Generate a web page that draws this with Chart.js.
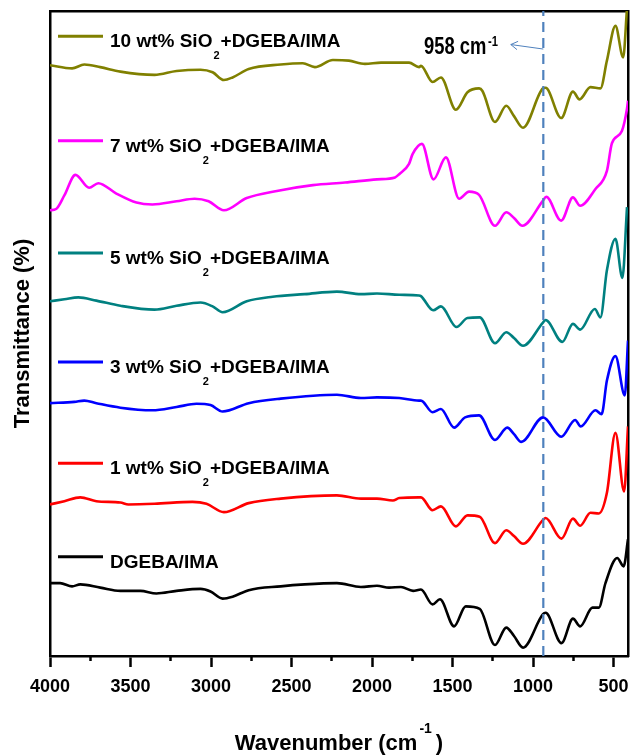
<!DOCTYPE html>
<html>
<head>
<meta charset="utf-8">
<script src="https://cdn.jsdelivr.net/npm/chart.js@4.4.1/dist/chart.umd.min.js"></script>
<style>
  html, body { margin: 0; padding: 0; background: #fff; }
  canvas { display: block; }
</style>
</head>
<body>
<canvas id="ftir" width="630" height="756"></canvas>
<script>
'use strict'

// series, top to bottom
var seriesLabels = ['10 wt% SiO₂+DGEBA/IMA', '7 wt% SiO₂+DGEBA/IMA', '5 wt% SiO₂+DGEBA/IMA',
                    '3 wt% SiO₂+DGEBA/IMA', '1 wt% SiO₂+DGEBA/IMA', 'DGEBA/IMA'];
var seriesColors = ['#808000', '#ff00ff', '#008080', '#0000ff', '#ff0000', '#000000'];

// [wavenumber, transmittance (offset, a.u.)]
var sio10 = [[4000,91.6],[3863,91.1],[3787,91.7],[3688,91.3],[3563,90.6],[3351,90.1],[3214,90.7],
  [3065,90.9],[2990,90.5],[2920,89.3],[2866,89.7],[2766,91.0],[2567,91.7],[2430,91.9],[2355,91.3],
  [2243,92.4],[2144,92.3],[2044,91.8],[1944,92.0],[1831,92.0],[1770,92.0],[1708,91.3],[1696,91.5],
  [1624,89.0],[1572,89.7],[1479,84.7],[1407,87.4],[1335,88.0],[1314,87.6],[1236,82.8],[1166,85.3],
  [1118,83.7],[1062,81.9],[938,88.0],[922,88.1],[825,83.4],[752,87.5],[711,86.3],[643,88.2],
  [581,88.0],[541,92.3],[488,97.7],[440,92.8],[416,100.5]];
var sio7 = [[4000,69.1],[3962,69.3],[3911,71.4],[3842,74.6],[3757,72.6],[3700,73.3],[3588,71.7],
  [3463,70.3],[3364,70.0],[3214,70.5],[3102,70.9],[3015,70.5],[2920,69.1],[2778,71.0],[2591,72.1],
  [2367,73.0],[2168,73.4],[1969,73.9],[1857,74.2],[1831,74.7],[1770,76.3],[1748,77.8],[1690,79.4],
  [1618,73.9],[1541,77.3],[1459,70.9],[1397,72.0],[1335,71.5],[1236,66.7],[1166,68.8],[1118,67.9],
  [1066,66.7],[938,70.6],[918,71.2],[825,67.5],[752,71.1],[707,69.8],[612,72.4],[541,75.2],
  [510,79.5],[448,81.4],[416,84.9],[410,86.1]];
var sio5 = [[4000,55.0],[3911,55.3],[3824,55.6],[3712,55.1],[3563,54.3],[3351,53.7],[3214,54.3],
  [3065,54.8],[2990,54.2],[2928,53.3],[2778,55.0],[2617,55.7],[2418,56.1],[2218,56.5],[2069,56.1],
  [1969,56.2],[1831,56.0],[1708,55.9],[1696,55.8],[1620,53.6],[1572,54.2],[1475,51.0],[1407,52.4],
  [1331,52.5],[1236,48.5],[1166,50.2],[1118,49.3],[1062,48.1],[938,51.7],[922,52.1],[818,48.7],
  [752,51.5],[707,50.6],[616,53.8],[581,52.5],[541,59.8],[488,64.7],[445,58.6],[416,69.6]];
var sio3 = [[4000,39.2],[3849,39.4],[3787,39.6],[3712,39.2],[3563,38.5],[3364,38.1],[3214,38.6],
  [3090,39.1],[3003,38.9],[2928,37.9],[2766,39.2],[2567,39.9],[2218,40.5],[2069,40.0],[1969,40.1],
  [1831,40.0],[1708,39.6],[1696,39.6],[1624,37.8],[1572,38.3],[1490,35.4],[1422,37.0],[1335,37.3],
  [1236,33.5],[1160,35.4],[1118,34.4],[1073,33.2],[937,37.0],[825,34.0],[738,36.6],[704,35.6],
  [612,38.1],[574,37.5],[541,42.7],[488,46.5],[430,40.4],[410,48.9]];
var sio1 = [[4000,23.5],[3911,24.0],[3812,24.6],[3712,24.0],[3563,23.8],[3513,23.5],[3351,23.6],
  [3115,23.9],[3028,23.6],[2920,22.3],[2766,23.7],[2567,24.4],[2218,24.9],[2069,24.4],[1969,24.4],
  [1870,24.1],[1831,24.5],[1708,24.6],[1696,24.6],[1624,22.6],[1572,23.2],[1479,20.1],[1407,21.8],
  [1331,21.6],[1236,17.5],[1166,19.5],[1118,18.6],[1062,17.4],[938,21.1],[922,21.4],[823,18.2],
  [752,21.3],[707,20.2],[643,22.2],[591,22.1],[541,25.3],[488,34.6],[434,25.5],[410,35.6]];
var neat = [[4000,11.3],[3937,11.3],[3863,10.8],[3812,11.1],[3688,10.6],[3563,10.1],[3438,10.1],
  [3339,9.7],[3214,10.1],[3065,10.4],[3003,10.0],[2928,8.9],[2866,9.2],[2766,10.2],[2567,10.8],
  [2418,11.1],[2218,11.3],[2069,10.7],[1969,10.9],[1894,10.6],[1820,10.7],[1745,10.1],[1696,10.3],
  [1624,8.0],[1578,8.8],[1490,4.6],[1418,7.7],[1331,7.3],[1236,1.7],[1166,4.4],[1118,3.1],
  [1062,1.3],[938,6.5],[922,6.7],[823,2.0],[752,5.8],[707,4.6],[631,7.5],[591,7.5],[550,11.3],
  [477,15.2],[437,13.9],[410,18.1]];

var seriesData = [sio10, sio7, sio5, sio3, sio1, neat];

var xTicks = [4000, 3500, 3000, 2500, 2000, 1500, 1000, 500];
var xMinorTicks = [3750, 3250, 2750, 2250, 1750, 1250, 750];

var markerAt = 936;        // dashed line
var markerText = '958 cm';

Chart.defaults.font.family = '"Liberation Sans", Arial, sans-serif';
Chart.defaults.color = '#000';

// where the legend swatches sit (y value)
var legendRows = [96.1, 79.9, 62.5, 45.6, 29.9, 15.4];

var overlay = {
  id: 'overlay',
  afterDraw: function(chart) {
    var ctx = chart.ctx, a = chart.chartArea;
    var x = chart.scales.x, y = chart.scales.y;
    ctx.save();
    ctx.fillStyle = '#000';

    // legend
    seriesLabels.forEach(function(label, i) {
      var py = y.getPixelForValue(legendRows[i]);
      ctx.strokeStyle = seriesColors[i];
      ctx.lineWidth = 3;
      ctx.beginPath();
      ctx.moveTo(a.left + 8, py);
      ctx.lineTo(a.left + 53, py);
      ctx.stroke();

      var parts = label.split('₂');
      var tx = a.left + 60, base = py + 11;
      ctx.textAlign = 'left';
      ctx.textBaseline = 'alphabetic';
      ctx.font = 'bold 19px "Liberation Sans", Arial, sans-serif';
      ctx.fillText(parts[0], tx, base);
      if (parts.length > 1) {
        tx += ctx.measureText(parts[0]).width + 1;
        ctx.font = 'bold 11px "Liberation Sans", Arial, sans-serif';
        ctx.fillText('2', tx, base + 12);
        tx += ctx.measureText('2').width + 1;
        ctx.font = 'bold 19px "Liberation Sans", Arial, sans-serif';
        ctx.fillText(parts[1], tx, base);
      }
    });

    // arrow + note
    var mx = x.getPixelForValue(markerAt);
    var ay = y.getPixelForValue(94.1);
    var tx2 = x.getPixelForValue(1138), ty2 = y.getPixelForValue(94.8);
    ctx.strokeStyle = '#4f81bd';
    ctx.lineWidth = 1;
    ctx.beginPath();
    ctx.moveTo(mx, ay);
    ctx.lineTo(tx2, ty2);
    var ang = Math.atan2(ay - ty2, mx - tx2);
    ctx.moveTo(tx2 + 8 * Math.cos(ang - 0.55), ty2 + 8 * Math.sin(ang - 0.55));
    ctx.lineTo(tx2, ty2);
    ctx.lineTo(tx2 + 8 * Math.cos(ang + 0.55), ty2 + 8 * Math.sin(ang + 0.55));
    ctx.stroke();

    // narrow look: squeeze Liberation Sans horizontally
    var nx = x.getPixelForValue(1290), ny = y.getPixelForValue(93.4);
    ctx.save();
    ctx.translate(nx, ny);
    ctx.scale(0.8, 1);
    ctx.font = 'bold 23px "Liberation Sans", Arial, sans-serif';
    ctx.textAlign = 'right';
    ctx.fillText(markerText, 0, 0);
    ctx.textAlign = 'left';
    ctx.font = 'bold 14px "Liberation Sans", Arial, sans-serif';
    ctx.fillText('-1', 2, -8);
    ctx.restore();

    // axis titles
    ctx.font = 'bold 22px "Liberation Sans", Arial, sans-serif';
    ctx.save();
    ctx.translate(29, (a.top + a.bottom) / 2);
    ctx.rotate(-Math.PI / 2);
    ctx.textAlign = 'center';
    ctx.fillText('Transmittance (%)', 0, 0);
    ctx.restore();

    var main = 'Wavenumber (cm', close = ')';
    var wMain = ctx.measureText(main).width, wClose = ctx.measureText(close).width;
    ctx.font = 'bold 14px "Liberation Sans", Arial, sans-serif';
    var wSup = ctx.measureText('-1').width;
    var sx = (a.left + a.right) / 2 - (wMain + wSup + wClose + 6) / 2;
    ctx.textAlign = 'left';
    ctx.fillText('-1', sx + wMain + 2, 733);
    ctx.font = 'bold 22px "Liberation Sans", Arial, sans-serif';
    ctx.fillText(main, sx, 750);
    ctx.fillText(close, sx + wMain + wSup + 6, 750);
    ctx.restore();
  }
};

var datasets = seriesData.map(function(pts, i) {
  return {
    label: seriesLabels[i],
    data: pts.map(function(p) { return { x: p[0], y: p[1] }; }),
    borderColor: seriesColors[i],
    borderWidth: 2.6,
    pointRadius: 0,
    cubicInterpolationMode: 'monotone',
    borderJoinStyle: 'round',
    fill: false
  };
});
datasets.push({
  label: 'marker',
  data: [{ x: markerAt, y: 0 }, { x: markerAt, y: 100 }],
  borderColor: '#4f81bd',
  borderWidth: 2.2,
  borderDash: [10, 6],
  pointRadius: 0,
  order: -1
});

var frame = {
  display: true,
  ticks: { display: false },
  grid: { display: false },
  border: { display: true, color: '#000', width: 2.5 }
};

var myChart = new Chart(document.getElementById('ftir'), {
  type: 'line',
  data: { datasets: datasets },
  options: {
    responsive: false,
    animation: false,
    layout: { padding: { top: 11, right: 2, bottom: 0, left: 0 } },
    plugins: { legend: { display: false }, tooltip: { enabled: false } },
    scales: {
      x: {
        type: 'linear', position: 'bottom', min: 410, max: 4000, reverse: true,
        afterBuildTicks: function(s) { s.ticks = xTicks.map(function(v) { return { value: v }; }); },
        afterFit: function(s) { s.height = 100; s.paddingLeft = 0; s.paddingRight = 0; },
        grid: { display: true, drawOnChartArea: false, drawTicks: true, tickLength: 11, tickWidth: 2.5, tickColor: '#000' },
        border: { display: true, color: '#000', width: 2.5 },
        ticks: { color: '#000', font: { size: 18, weight: 'bold' }, padding: 9, maxRotation: 0, autoSkip: false,
                 callback: function(v) { return String(v); } }
      },
      xm: {
        type: 'linear', position: 'bottom', weight: -1, min: 410, max: 4000, reverse: true, display: true,
        afterBuildTicks: function(s) { s.ticks = xMinorTicks.map(function(v) { return { value: v }; }); },
        afterFit: function(s) { s.height = 0; s.paddingLeft = 0; s.paddingRight = 0; },
        grid: { display: true, drawOnChartArea: false, drawTicks: true, tickLength: 5, tickWidth: 2.5, tickColor: '#000' },
        border: { display: false },
        ticks: { display: false }
      },
      xt: Object.assign({ type: 'linear', position: 'top', min: 410, max: 4000, reverse: true,
        afterFit: function(s) { s.height = 0; s.paddingLeft = 0; s.paddingRight = 0; } }, frame),
      y: {
        type: 'linear', position: 'left', min: 0, max: 100,
        afterFit: function(s) { s.width = 50; },
        ticks: { display: false },
        grid: { display: false },
        border: { display: true, color: '#000', width: 2.5 }
      },
      yr: Object.assign({ type: 'linear', position: 'right', min: 0, max: 100,
        afterFit: function(s) { s.width = 0; } }, frame)
    }
  },
  plugins: [overlay]
});
</script>
</body>
</html>
